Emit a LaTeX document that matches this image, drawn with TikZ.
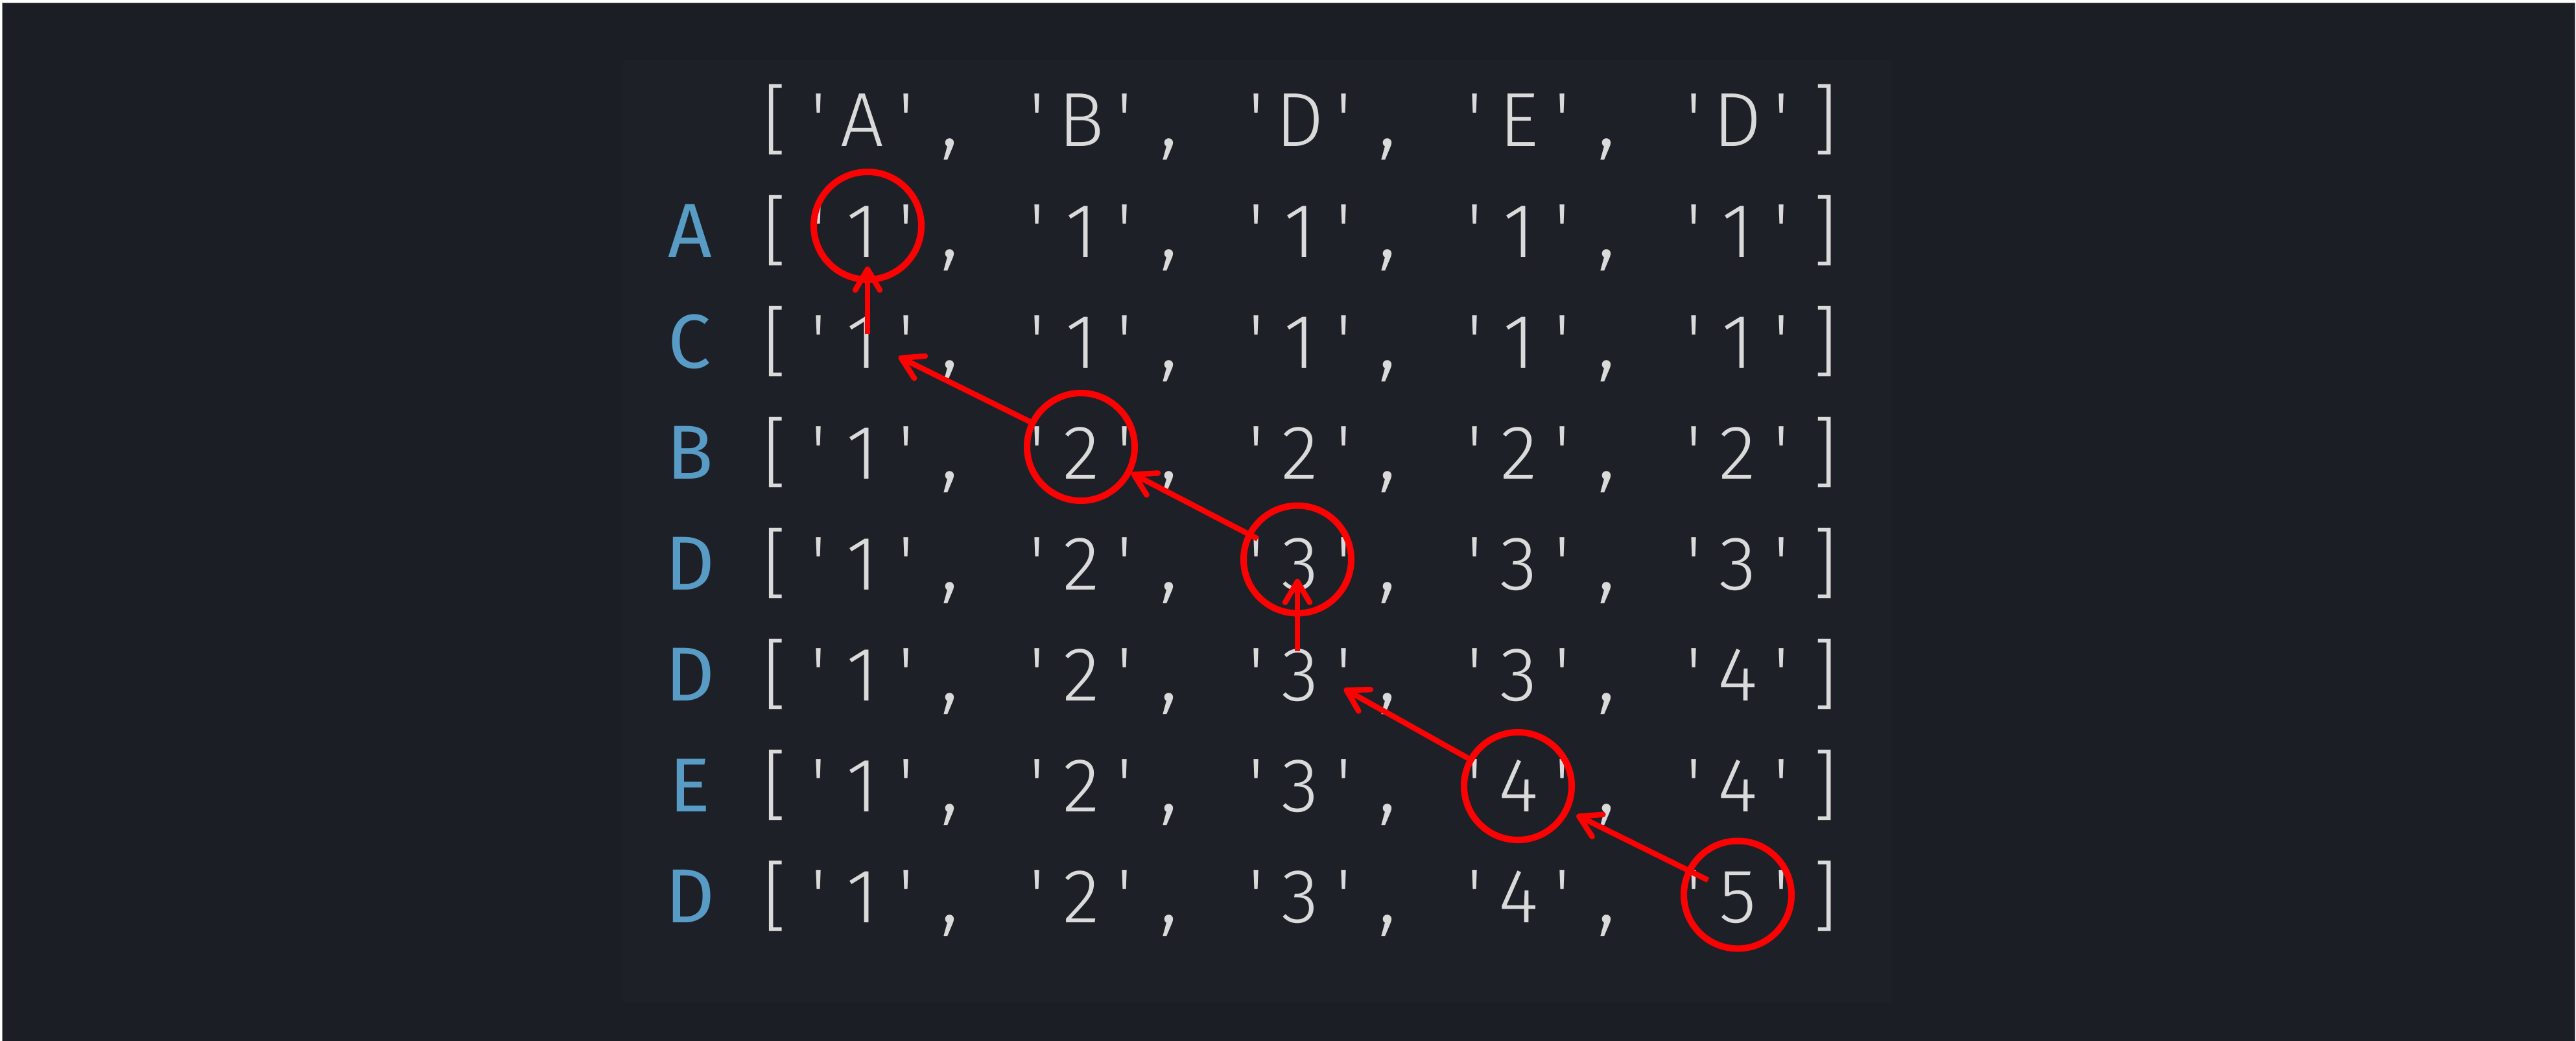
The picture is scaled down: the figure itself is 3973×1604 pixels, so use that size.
\documentclass[tikz,border=0pt]{standalone}
\usepackage{fontspec}
\newfontfamily\codelight{Fira Sans Light}[Ligatures=TeXOff]
\newfontfamily\labelfont{Fira Sans}
\usetikzlibrary{arrows.meta}
\definecolor{bgdark}{RGB}{28,30,38}
\definecolor{bginner}{RGB}{30,32,40}
\definecolor{framegray}{RGB}{150,150,150}
\definecolor{codetxt}{RGB}{218,218,218}
\definecolor{lblblue}{RGB}{88,156,198}
\definecolor{markred}{RGB}{255,0,0}
\begin{document}
\begin{tikzpicture}[x=1pt,y=-1pt,
  codech/.style={anchor=base, inner sep=0pt, outer sep=0pt, text=codetxt,
    font=\codelight\fontsize{118}{118}\selectfont},
  commach/.style={codech, font=\codelight\fontsize{140}{140}\selectfont},
  rowlbl/.style={anchor=base, inner sep=0pt, outer sep=0pt, text=lblblue,
    font=\labelfont\fontsize{118}{118}\selectfont},
  ringmark/.style={circle, draw=markred, line width=10pt, minimum size=166pt, inner sep=0pt},
  backarrow/.style={draw=markred, line width=8.5pt,
    -{Straight Barb[length=32pt,width=38pt,round]}}
]
\useasboundingbox (0,0) rectangle (3973,1604);
% background
\fill[white] (0,0) rectangle (3973,1604);
\draw[fill=bgdark, draw=framegray, line width=1.5pt] (3.5,4.5) rectangle (3971.5,1612);
\fill[bginner] (961,93) rectangle (2919,1546);

% monospaced grid: cell i centred at 1060 + 67.5 i
\foreach \nm/\yy/\va/\vb/\vc/\vd/\ve in {H/225/A/B/D/E/D, A/396/1/1/1/1/1, C/567/1/1/1/1/1,
    B/738/1/2/2/2/2, D1/909/1/2/3/3/3, D2/1080/1/2/3/3/4, E/1251/1/2/3/4/4, D3/1422/1/2/3/4/5}{
  \node[codech] (\nm-open) at ({1060+2*67.5},\yy) {[};
  \node[codech] (\nm-close) at ({1060+26*67.5},\yy) {]};
  \foreach \v [count=\j from 0] in {\va,\vb,\vc,\vd,\ve}{
    \node[codech] (\nm-ql\j) at ({1060+(3+5*\j)*67.5},\yy) {'};
    \node[codech] (\nm-v\j)  at ({1060+(4+5*\j)*67.5},\yy) {\v};
    \node[codech] (\nm-qr\j) at ({1060+(5+5*\j)*67.5},\yy) {'};
  }
  \foreach \j in {0,...,3}{
    \node[commach] (\nm-cm\j) at ({1060+(6+5*\j)*67.5},\yy) {,};
  }
}
% row labels
\foreach \nm/\lbl/\yy in {A/A/396, C/C/567, B/B/738, D1/D/909, D2/D/1080, E/E/1251, D3/D/1422}{
  \node[rowlbl] (\nm-lbl) at (1064,\yy) {\lbl};
}

% circled cells
\node[ringmark] (c1) at (1338,348) {};
\node[ringmark] (c2) at (1667,689) {};
\node[ringmark] (c3) at (2001,862.5) {};
\node[ringmark] (c4) at (2341,1212) {};
\node[ringmark] (c5) at (2680,1379.5) {};

% free ends of arrows
\coordinate (s1) at (1338,515);
\coordinate (t2) at (1386,550);
\coordinate (s4) at (2001,1004);
\coordinate (t5) at (2073,1062);

% arrows
\draw[backarrow, shorten >=-25pt] (s1) -- (c1);
\draw[backarrow] (c2) -- (t2);
\draw[backarrow, shorten <=-19pt] (c3) -- (c2);
\draw[backarrow, shorten >=-58pt] (s4) -- (c3);
\draw[backarrow] (c4) -- (t5);
\draw[backarrow, shorten <=-37pt, shorten >=13pt] (c5) -- (c4);
\end{tikzpicture}
\end{document}
